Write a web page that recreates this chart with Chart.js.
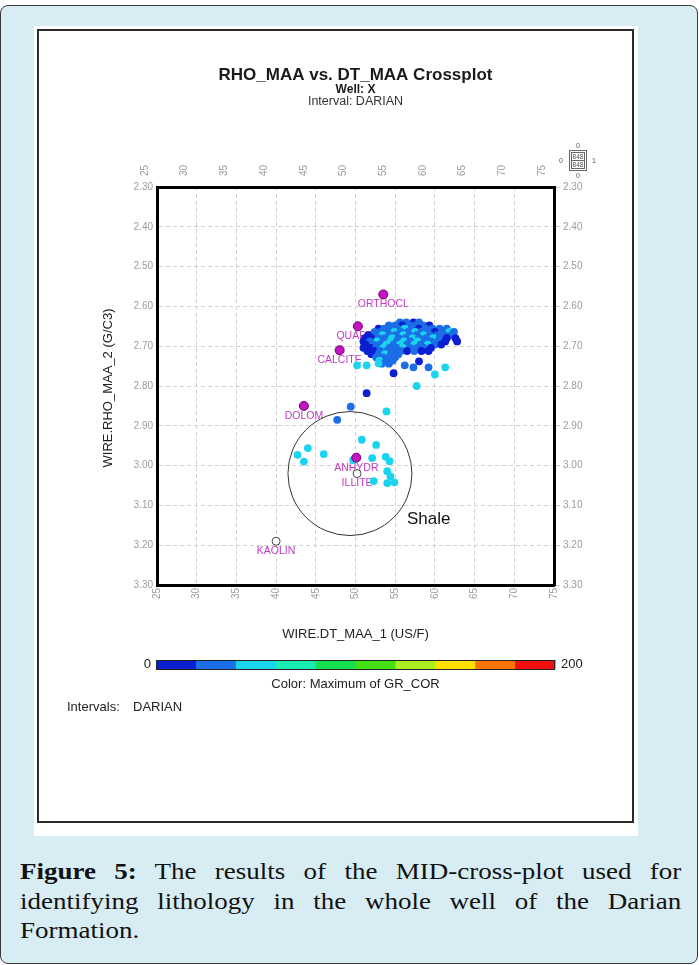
<!DOCTYPE html>
<html>
<head>
<meta charset="utf-8">
<script src="https://cdn.jsdelivr.net/npm/chart.js"></script>
<style>
  body { margin: 0; width: 699px; height: 965px; position: relative; background: #fff; overflow: hidden; font-family: "Liberation Sans", Arial, sans-serif; }
  #outer { position: absolute; left: 0; top: 5px; width: 698px; height: 959px; box-sizing: border-box; border: 1.5px solid #3a3a3a; border-radius: 8px; background: #d8edf3; }
  #panel { position: absolute; left: 34px; top: 26px; width: 604px; height: 810px; background: #fff; }
  #frame { position: absolute; left: 37px; top: 29px; width: 597px; height: 794px; box-sizing: border-box; border: 2px solid #2a2a2a; }
  #plot { position: absolute; left: 37px; top: 29px; }
  #caption { position: absolute; left: 20px; top: 857px; width: 551px; transform: scaleX(1.2); transform-origin: 0 0; font-family: "Liberation Serif", "Times New Roman", serif; font-size: 22.5px; line-height: 29.5px; color: #111; }
  #caption div { text-align: justify; text-align-last: justify; }
  #caption div.last { text-align-last: left; }
</style>
</head>
<body>
<div id="outer"></div>
<div id="panel"></div>
<div id="frame"></div>
<canvas id="plot" width="597" height="793"></canvas>
<div id="caption">
  <div><b>Figure 5:</b> The results of the MID-cross-plot used for</div>
  <div>identifying lithology in the whole well of the Darian</div>
  <div class="last">Formation.</div>
</div>
<script>
// axes
const xTicks = [25, 30, 35, 40, 45, 50, 55, 60, 65, 70, 75];
const yTicks = [2.3, 2.4, 2.5, 2.6, 2.7, 2.8, 2.9, 3.0, 3.1, 3.2, 3.3];
const yTickLabels = ['2.30', '2.40', '2.50', '2.60', '2.70', '2.80', '2.90', '3.00', '3.10', '3.20', '3.30'];

// mineral reference points
const minNames = ['ORTHOCL', 'QUARTZ', 'CALCITE', 'DOLOM', 'ANHYDR', 'ILLITE', 'KAOLIN'];
const minDT = [53.5, 50.3, 48.0, 43.5, 50.1, 50.2, 40.0];
const minRHO = [2.57, 2.65, 2.71, 2.85, 2.98, 3.02, 3.19];
const minOpen = [false, false, false, false, false, true, true];

// shale zone centre
const shaleDT = [49.3];
const shaleRHO = [3.02];

// colour scale for GR_COR (0 - 200)
const grBreaks = [0, 20, 40, 60, 80, 100, 120, 140, 160, 180, 200];
const grColors = ['#0a1ed2', '#1c6ee6', '#1ad4ee', '#18eeb2', '#16e050', '#44e014', '#aaf020', '#ffe000', '#ff7400', '#f01010'];

// well samples: DT_MAA, RHO_MAA, GR_COR
const dtVals = [
  55.6, 56.4, 57.3, 58.0,
  54.2, 55.0, 55.9, 56.8, 57.6, 58.5, 59.3,
  52.9, 53.6, 54.5, 55.4, 56.2, 57.1, 58.0, 58.8, 59.7, 60.6, 61.5,
  52.4, 53.2, 54.0, 54.9, 55.7, 56.6, 57.5, 58.3, 59.2, 60.0, 60.9, 61.8, 62.4,
  51.6, 52.5, 53.4, 54.3, 55.1, 56.0, 56.8, 57.7, 58.6, 59.4, 60.3, 61.2, 62.1,
  51.2, 52.0, 52.9, 53.7, 54.6, 55.4, 56.3, 57.2, 58.0, 58.9, 59.8, 60.6, 61.5, 62.6,
  51.0, 51.8, 52.7, 53.5, 54.4, 55.2, 56.1, 56.9, 57.8, 58.7, 59.5, 60.4, 61.3, 62.8,
  51.3, 52.2, 53.0, 53.9, 54.8, 55.6, 56.5, 57.4, 58.2, 59.1, 60.0, 60.8,
  51.0, 51.9, 52.6, 53.5, 54.3, 55.2, 56.0, 56.9, 57.8, 58.6, 59.5,
  51.5, 52.3, 53.1, 54.0, 54.8, 55.7, 56.5, 57.4, 58.3, 59.2,
  52.0, 52.9, 53.7, 54.5, 55.4,
  52.6, 53.4, 54.2, 55.0,
  53.0, 53.9, 54.7,
  53.3, 54.2,
  50.2, 51.4, 52.9, 54.8, 56.2, 57.3, 58.0, 59.2, 60.0, 61.3,
  57.7, 51.4, 49.4, 53.9, 47.7,
  44.0, 42.7, 43.5, 46.0, 50.8, 52.6, 52.1, 53.8, 54.3, 49.7, 54.0, 54.4, 52.3, 54.0, 54.9
];
const rhoVals = [
  2.640, 2.640, 2.640, 2.640,
  2.648, 2.648, 2.648, 2.648, 2.648, 2.648, 2.648,
  2.656, 2.656, 2.656, 2.656, 2.656, 2.656, 2.656, 2.656, 2.656, 2.656, 2.656,
  2.664, 2.664, 2.664, 2.664, 2.664, 2.664, 2.664, 2.664, 2.664, 2.664, 2.664, 2.664, 2.664,
  2.672, 2.672, 2.672, 2.672, 2.672, 2.672, 2.672, 2.672, 2.672, 2.672, 2.672, 2.672, 2.672,
  2.680, 2.680, 2.680, 2.680, 2.680, 2.680, 2.680, 2.680, 2.680, 2.680, 2.680, 2.680, 2.680, 2.680,
  2.688, 2.688, 2.688, 2.688, 2.688, 2.688, 2.688, 2.688, 2.688, 2.688, 2.688, 2.688, 2.688, 2.688,
  2.696, 2.696, 2.696, 2.696, 2.696, 2.696, 2.696, 2.696, 2.696, 2.696, 2.696, 2.696,
  2.704, 2.704, 2.704, 2.704, 2.704, 2.704, 2.704, 2.704, 2.704, 2.704, 2.704,
  2.712, 2.712, 2.712, 2.712, 2.712, 2.712, 2.712, 2.712, 2.712, 2.712,
  2.720, 2.720, 2.720, 2.720, 2.720,
  2.728, 2.728, 2.728, 2.728,
  2.736, 2.736, 2.736,
  2.744, 2.744,
  2.748, 2.748, 2.743, 2.768, 2.748, 2.753, 2.738, 2.753, 2.771, 2.753,
  2.800, 2.818, 2.852, 2.864, 2.885,
  2.956, 2.973, 2.990, 2.971, 2.935, 2.948, 2.981, 2.978, 2.989, 2.986, 3.014, 3.027, 3.039, 3.044, 3.042
];
const grVals = [
  28, 31, 14, 27,
  26, 33, 16, 29, 24, 30, 13,
  17, 27, 32, 25, 46, 30, 15, 28, 35, 26, 31,
  24, 29, 33, 48, 27, 31, 52, 26, 30, 12, 28, 44, 25,
  11, 27, 47, 30, 24, 51, 33, 28, 45, 29, 32, 26, 30,
  14, 9, 31, 26, 49, 30, 34, 55, 27, 29, 47, 31, 13, 10,
  12, 28, 50, 25, 53, 32, 46, 28, 49, 33, 26, 30, 16, 8,
  15, 33, 29, 44, 27, 51, 31, 48, 30, 54, 25, 11,
  10, 13, 31, 47, 28, 35, 52, 26, 30, 29, 14,
  16, 12, 30, 27, 33, 29, 17, 31, 15, 11,
  13, 29, 45, 31, 26,
  32, 27, 30, 34,
  50, 28, 31,
  26, 29,
  48, 52, 46, 12, 28, 31, 14, 27, 50, 47,
  53, 10, 33, 49, 30,
  51, 47, 54, 50, 46, 52, 48, 55, 49, 53, 45, 51, 47, 50, 53
];

function grColor(v) {
  for (let i = 0; i < grColors.length; i++) {
    if (v < grBreaks[i + 1]) return grColors[i];
  }
  return grColors[grColors.length - 1];
}

const wellPoints = dtVals.map((d, i) => ({ x: d, y: rhoVals[i] }));
const minPoints = minDT.map((d, i) => ({ x: d, y: minRHO[i] }));
const shalePoints = shaleDT.map((d, i) => ({ x: d, y: shaleRHO[i] }));

const sans = '"Liberation Sans", Arial, sans-serif';
const tickFont = { family: sans, size: 10 };
const tickColor = '#9c9c9c';
const frameBorder = { display: true, color: '#000', width: 3, dash: [4, 3] };

// texts, colour bar and labels drawn around the plot
const decor = {
  id: 'decor',
  beforeDatasetsDraw(chart) {
    const ctx = chart.ctx, sx = chart.scales.x, sy = chart.scales.y;
    ctx.save();
    ctx.font = '10.5px ' + sans;
    ctx.fillStyle = '#c03cc0';
    ctx.textAlign = 'center';
    ctx.textBaseline = 'middle';
    minNames.forEach((n, i) => {
      ctx.fillText(n, sx.getPixelForValue(minDT[i]), sy.getPixelForValue(minRHO[i]) + 10);
    });
    ctx.restore();
  },
  afterDraw(chart) {
    const ctx = chart.ctx, a = chart.chartArea;
    const cx = (a.left + a.right) / 2;
    ctx.save();
    ctx.textAlign = 'center';
    ctx.textBaseline = 'middle';
    ctx.fillStyle = '#1a1a1a';
    ctx.font = 'bold 17px ' + sans;
    ctx.fillText('RHO_MAA vs. DT_MAA Crossplot', cx, 46);
    ctx.font = 'bold 12px ' + sans;
    ctx.fillText('Well: X', cx, 61);
    ctx.font = '12.5px ' + sans;
    ctx.fillStyle = '#333';
    ctx.fillText('Interval: DARIAN', cx, 73);

    // axis titles
    ctx.fillStyle = '#222';
    ctx.font = '13px ' + sans;
    ctx.fillText('WIRE.DT_MAA_1 (US/F)', cx, a.bottom + 49);
    ctx.save();
    ctx.translate(71, (a.top + a.bottom) / 2 + 2);
    ctx.rotate(-Math.PI / 2);
    ctx.fillText('WIRE.RHO_MAA_2 (G/C3)', 0, 0);
    ctx.restore();

    // Shale label
    const sx = chart.scales.x.getPixelForValue(shaleDT[0]);
    const sy = chart.scales.y.getPixelForValue(shaleRHO[0]);
    ctx.font = '17px ' + sans;
    ctx.textAlign = 'left';
    ctx.fillStyle = '#111';
    ctx.fillText('Shale', sx + 57, sy + 46);

    // colour bar
    const barTop = a.bottom + 75, barH = 9;
    const bx0 = a.left - 1, bw = (a.right - a.left + 2);
    grColors.forEach((c, i) => {
      const x0 = bx0 + bw * (grBreaks[i] - grBreaks[0]) / (grBreaks[10] - grBreaks[0]);
      const x1 = bx0 + bw * (grBreaks[i + 1] - grBreaks[0]) / (grBreaks[10] - grBreaks[0]);
      ctx.fillStyle = c;
      ctx.fillRect(x0, barTop, x1 - x0 + 0.5, barH);
    });
    ctx.strokeStyle = '#222';
    ctx.lineWidth = 1;
    ctx.strokeRect(bx0 + 0.5, barTop + 0.5, bw - 1, barH);
    ctx.fillStyle = '#222';
    ctx.font = '13px ' + sans;
    ctx.textAlign = 'right';
    ctx.fillText(String(grBreaks[0]), bx0 - 5, barTop + barH / 2);
    ctx.textAlign = 'left';
    ctx.fillText(String(grBreaks[10]), bx0 + bw + 6, barTop + barH / 2);
    ctx.textAlign = 'center';
    ctx.fillText('Color: Maximum of GR_COR', cx, barTop + 24);
    ctx.textAlign = 'left';
    ctx.fillText('Intervals:', 30, barTop + 47);
    ctx.fillText('DARIAN', 96, barTop + 47);

    // small count box, top right
    const by = 121;
    ctx.strokeStyle = '#666';
    ctx.lineWidth = 1;
    ctx.strokeRect(532.5, by + 0.5, 17, 20);
    ctx.strokeRect(534.5, by + 2.5, 13, 16);
    ctx.beginPath();
    ctx.moveTo(534.5, by + 10.5);
    ctx.lineTo(547.5, by + 10.5);
    ctx.stroke();
    ctx.fillStyle = '#555';
    ctx.textAlign = 'center';
    ctx.font = '6.5px ' + sans;
    ctx.fillText('848', 541, by + 7);
    ctx.fillText('848', 541, by + 15);
    ctx.font = '7px ' + sans;
    ctx.fillText('0', 541, by - 4);
    ctx.fillText('0', 541, by + 26);
    ctx.fillText('0', 524, by + 11);
    ctx.fillText('1', 557, by + 11);
    ctx.restore();
  }
};

new Chart(document.getElementById('plot'), {
  type: 'scatter',
  data: {
    datasets: [
      {
        label: 'Minerals',
        data: minPoints,
        order: 1,
        pointRadius: minOpen.map(o => (o ? 4 : 4.5)),
        pointBackgroundColor: minOpen.map(o => (o ? '#ffffff' : '#c414c4')),
        pointBorderColor: minOpen.map(o => (o ? '#444444' : '#6a006a')),
        pointBorderWidth: 1
      },
      {
        label: 'GR_COR',
        data: wellPoints,
        order: 2,
        pointRadius: 3.9,
        pointBorderWidth: 0,
        pointBackgroundColor: grVals.map(grColor)
      },
      {
        label: 'Shale',
        data: shalePoints,
        order: 3,
        pointRadius: 62,
        pointBackgroundColor: 'rgba(0,0,0,0)',
        pointBorderColor: '#333',
        pointBorderWidth: 1
      }
    ]
  },
  options: {
    responsive: false,
    animation: false,
    layout: { padding: { left: 80, right: 40, top: 128, bottom: 207 } },
    plugins: { legend: { display: false }, tooltip: { enabled: false } },
    scales: {
      x: {
        type: 'linear', position: 'bottom', min: xTicks[0], max: xTicks[xTicks.length - 1],
        afterBuildTicks: s => { s.ticks = xTicks.map(v => ({ value: v })); },
        afterFit: s => { s.height = 30; },
        ticks: { minRotation: 90, maxRotation: 90, padding: 3, color: tickColor, font: tickFont },
        grid: { color: '#d2d2d2', lineWidth: 1, drawTicks: false },
        border: frameBorder
      },
      x2: {
        type: 'linear', axis: 'x', position: 'top', min: xTicks[0], max: xTicks[xTicks.length - 1],
        afterBuildTicks: s => { s.ticks = xTicks.map(v => ({ value: v })); },
        afterFit: s => { s.height = 30; },
        ticks: { minRotation: 90, maxRotation: 90, padding: 3, color: tickColor, font: tickFont },
        grid: { display: false },
        border: frameBorder
      },
      y: {
        type: 'linear', position: 'left', reverse: true, min: yTicks[0], max: yTicks[yTicks.length - 1],
        afterBuildTicks: s => { s.ticks = yTicks.map(v => ({ value: v })); },
        afterFit: s => { s.width = 40; },
        ticks: { padding: 4, color: tickColor, font: tickFont, callback: (v, i) => yTickLabels[i] },
        grid: { color: '#d2d2d2', lineWidth: 1, drawTicks: false },
        border: frameBorder
      },
      y2: {
        type: 'linear', axis: 'y', position: 'right', reverse: true, min: yTicks[0], max: yTicks[yTicks.length - 1],
        afterBuildTicks: s => { s.ticks = yTicks.map(v => ({ value: v })); },
        afterFit: s => { s.width = 40; },
        ticks: { padding: 3, color: tickColor, font: tickFont, callback: (v, i) => yTickLabels[i] },
        grid: { drawOnChartArea: false, drawTicks: true, tickLength: 6, tickColor: '#cccccc' },
        border: frameBorder
      }
    }
  },
  plugins: [decor]
});
</script>
</body>
</html>
